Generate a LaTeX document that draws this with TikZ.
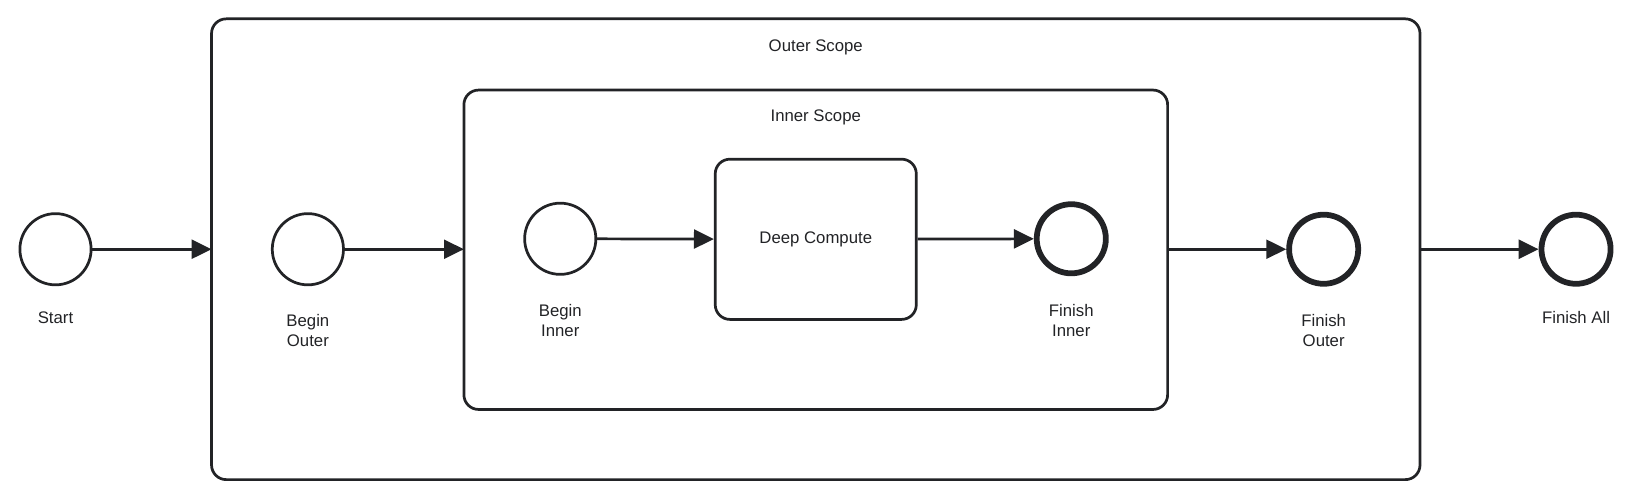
\documentclass[tikz,border=0pt]{standalone}
\usepackage{fontspec}
\setmainfont{Liberation Sans}
\usetikzlibrary{arrows.meta}
\definecolor{ink}{HTML}{222326}
\begin{document}
\begin{tikzpicture}[x=1pt,y=-1pt,
  lbl/.style={font=\fontsize{16}{19}\selectfont,text=ink,align=center},
  ev/.style={circle,draw=ink,line width=2.6pt,minimum size=68pt,inner sep=0pt},
  endev/.style={circle,draw=ink,line width=5.5pt,minimum size=66pt,inner sep=0pt},
  box/.style={draw=ink,line width=2.6pt,rounded corners=14pt},
  flow/.style={draw=ink,line width=2.6pt,-{Triangle[length=19pt,width=18pt]}}]
\useasboundingbox (0,0) rectangle (1568,477);
\draw[box] (202,18) rectangle (1356,458);
\node[lbl] at (779,45) {Outer Scope};
\draw[box] (443,86) rectangle (1115,391);
\node[lbl] at (779,112) {Inner Scope};
\coordinate (oL) at (202,238); \coordinate (oR) at (1356,238);
\coordinate (iL) at (443,238); \coordinate (iR) at (1115,238);
\node[box,minimum width=192pt,minimum height=153pt,lbl] (dc) at (779,228.5) {Deep Compute};
\node[ev] (s) at (53,238) {};
\node[lbl] at (53,303) {Start};
\node[ev] (bo) at (294,238) {};
\node[lbl] at (294,316) {Begin\\Outer};
\node[ev] (bi) at (535,228) {};
\node[lbl] at (535,306) {Begin\\Inner};
\node[endev] (fi) at (1023,228) {};
\node[lbl] at (1023,306) {Finish\\Inner};
\node[endev] (fo) at (1264,238) {};
\node[lbl] at (1264,316) {Finish\\Outer};
\node[endev] (fa) at (1505,238) {};
\node[lbl] at (1505,303) {Finish All};
\draw[flow] (s) -- (oL);
\draw[flow] (bo) -- (iL);
\draw[flow] (bi) -- (dc);
\draw[flow] (dc) -- (fi);
\draw[flow] (iR) -- (fo);
\draw[flow] (oR) -- (fa);
\end{tikzpicture}
\end{document}
